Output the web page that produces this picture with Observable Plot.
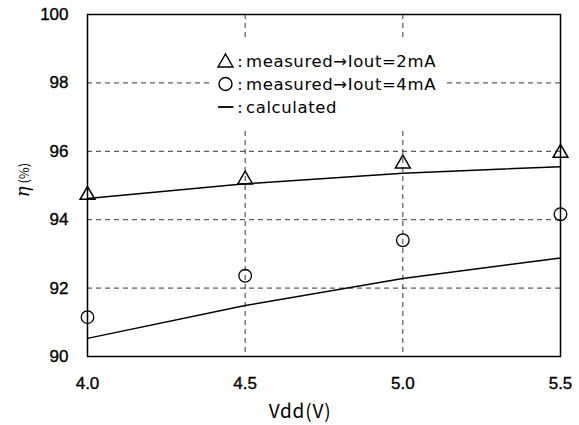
<!DOCTYPE html>
<html><head><meta charset="utf-8">
<script src="https://cdn.jsdelivr.net/npm/d3@7"></script>
<script src="https://cdn.jsdelivr.net/npm/@observablehq/plot@0.6"></script>
<style>
body{margin:0;background:#fff;}
#chart{position:relative;width:579px;height:425px;}
</style>
</head><body><div id="chart"></div>
<script>
const vdd = [4.0, 4.5, 5.0, 5.5];
const measured2mA = [94.72, 95.17, 95.64, 95.95];
const measured4mA = [91.15, 92.36, 93.40, 94.16];
const calc2mA = [94.62, 95.05, 95.36, 95.55];
const calc4mA = [90.53, 91.49, 92.28, 92.88];
const xTicks = [4.0, 4.5, 5.0, 5.5];
const yTicks = [90, 92, 94, 96, 98, 100];
const legendKinds = ["triangle", "circle", "line"];
const legendLabels = ["measured\u2192Iout=2mA", "measured\u2192Iout=4mA", "calculated"];
const xLabel = "Vdd(V)";

const tri = vdd.map((x,i)=>({x, y: measured2mA[i]}));
const circ = vdd.map((x,i)=>({x, y: measured4mA[i]}));
const l1 = vdd.map((x,i)=>({x, y: calc2mA[i]}));
const l2 = vdd.map((x,i)=>({x, y: calc4mA[i]}));

const fontTick = "'Liberation Sans', Arial, sans-serif";
const fontLeg = "'DejaVu Sans', sans-serif";
const fontJP = "'Noto Sans CJK JP', sans-serif";

const plot = Plot.plot({
  width: 579, height: 425,
  marginLeft: 87, marginRight: 19, marginTop: 14, marginBottom: 69,
  style: {background: "#fff", color: "#000"},
  x: {domain: [4.0, 5.5]},
  y: {domain: [90, 100]},
  marks: [
    Plot.ruleY([92,94,96,98], {stroke: "#000", strokeWidth: 0.8, strokeDasharray: "5,4"}),
    Plot.ruleX([4.5, 5.0], {stroke: "#000", strokeWidth: 0.8, strokeDasharray: "5,4"}),
    Plot.frame({stroke: "#000", strokeWidth: 1.5}),
    Plot.axisY(yTicks, {tickSize: 0, tickPadding: 19, fontSize: 17, fontFamily: fontTick, label: null, tickFormat: d => String(d)}),
    Plot.axisX(xTicks, {tickSize: 0, tickPadding: 20, fontSize: 17, fontFamily: fontTick, label: null, tickFormat: d => d.toFixed(1)}),
    Plot.line(l1, {x: "x", y: "y", stroke: "#000", strokeWidth: 1.5}),
    Plot.line(l2, {x: "x", y: "y", stroke: "#000", strokeWidth: 1.5}),
    Plot.dot(tri, {x: "x", y: "y", symbol: "triangle", r: 5.5, stroke: "#000", strokeWidth: 1.5, fill: "none"}),
    Plot.dot(circ, {x: "x", y: "y", symbol: "circle", r: 6.3, stroke: "#000", strokeWidth: 1.3, fill: "none"})
  ]
});
document.getElementById("chart").appendChild(plot);
const svg = d3.select(plot);

// slightly heavier tick labels
svg.selectAll("[aria-label^='x-axis tick label'] text, [aria-label^='y-axis tick label'] text")
  .attr("stroke", "#000").attr("stroke-width", 0.35);

// legend box (white, hides grid behind it)
const lg = svg.append("g").attr("font-family", fontLeg).attr("fill", "#000");
lg.append("rect").attr("x", 212).attr("y", 38).attr("width", 231).attr("height", 90).attr("fill", "#fff");
const rowsY = [61, 84, 107];
legendLabels.forEach((lab, i) => {
  const kind = legendKinds[i];
  const cx = 225.5, cy = rowsY[i];
  if (kind === "triangle") {
    lg.append("path").attr("d", `M${cx-7.5},${cy+6}L${cx+7.5},${cy+6}L${cx},${cy-7}Z`)
      .attr("fill", "none").attr("stroke", "#000").attr("stroke-width", 1.4);
  } else if (kind === "circle") {
    lg.append("circle").attr("cx", cx).attr("cy", cy).attr("r", 6.5)
      .attr("fill", "none").attr("stroke", "#000").attr("stroke-width", 1.4);
  } else {
    lg.append("line").attr("x1", cx-7.5).attr("x2", cx+8).attr("y1", cy).attr("y2", cy)
      .attr("stroke", "#000").attr("stroke-width", 1.8);
  }
  lg.append("text").attr("x", 240).attr("y", rowsY[i]).attr("dy", "0.35em").attr("text-anchor", "middle")
    .attr("font-size", 16).text(":");
  lg.append("text").attr("x", 246).attr("y", rowsY[i]).attr("dy", "0.35em").attr("text-anchor", "start")
    .attr("font-size", 16.5).attr("letter-spacing", 0.6).text(lab);
});

// x label
svg.append("text").attr("x", 300).attr("y", 411).attr("dy", "0.35em").attr("text-anchor", "middle")
  .attr("font-family", fontJP).attr("font-size", 19).attr("letter-spacing", 0.8).attr("fill", "#000").text(xLabel);

// y label
const yl = svg.append("text").attr("transform", "translate(25,180) rotate(-90)").attr("text-anchor", "middle").attr("dy", "0.35em").attr("fill", "#000");
yl.append("tspan").text("\u03B7").attr("font-family", "'DejaVu Serif', serif").attr("font-style", "italic").attr("font-size", 18);
yl.append("tspan").text(" (%)").attr("font-family", fontJP).attr("font-size", 13);
</script>
</body></html>
